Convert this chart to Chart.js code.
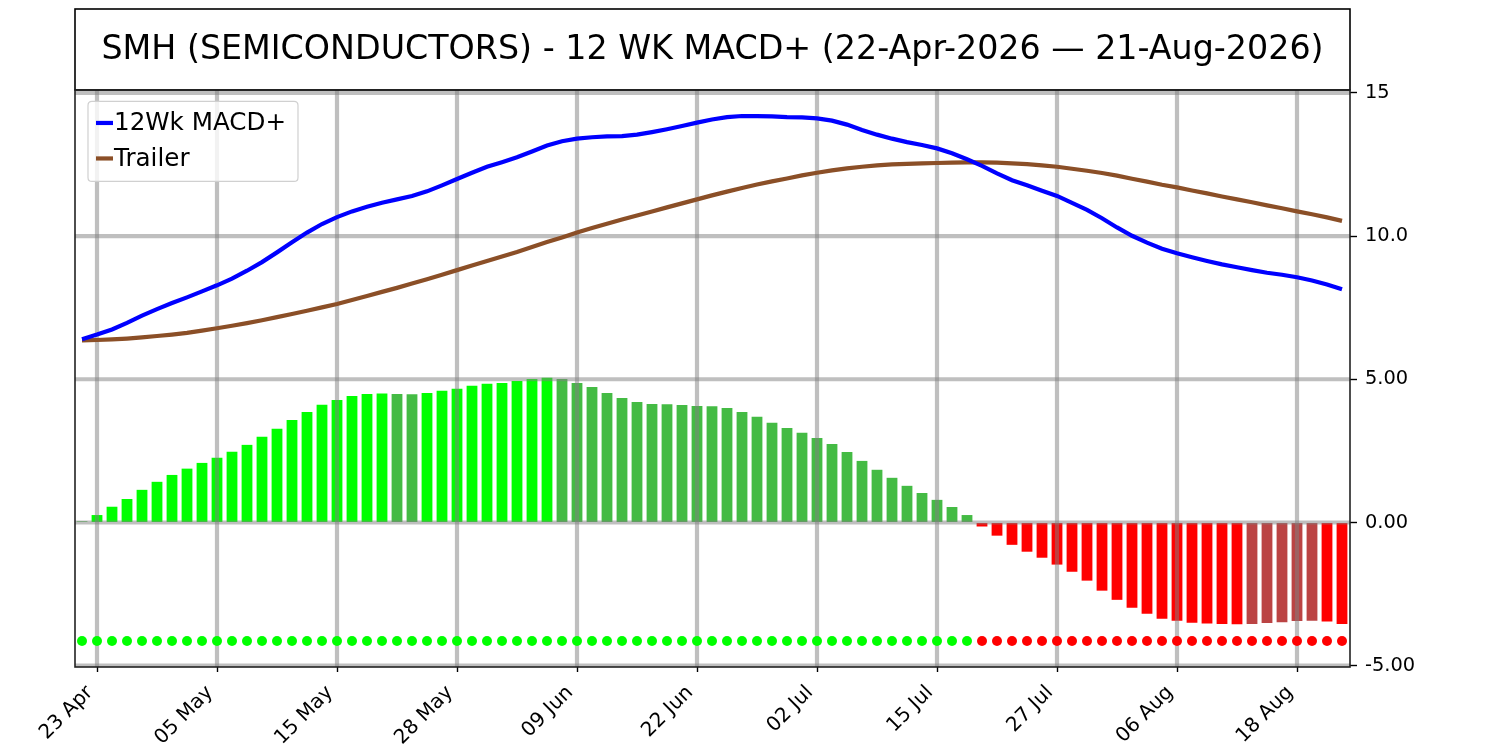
<!DOCTYPE html>
<html>
<head>
<meta charset="utf-8">
<script src="https://cdn.jsdelivr.net/npm/chart.js@4.4.1/dist/chart.umd.min.js"></script>
<style>
  html, body { margin: 0; padding: 0; background: #ffffff; }
  #wrap { width: 1500px; height: 750px; }
</style>
</head>
<body>
<div id="wrap"><canvas id="c" width="1500" height="750"></canvas></div>
<script>
const titleText = 'SMH (SEMICONDUCTORS) - 12 WK MACD+ (22-Apr-2026 \u2014 21-Aug-2026)';

const dates = [
  '22 Apr','23 Apr','24 Apr','27 Apr','28 Apr','29 Apr','30 Apr','01 May','04 May','05 May',
  '06 May','07 May','08 May','11 May','12 May','13 May','14 May','15 May','18 May','19 May',
  '20 May','21 May','22 May','26 May','27 May','28 May','29 May','01 Jun','02 Jun','03 Jun',
  '04 Jun','05 Jun','08 Jun','09 Jun','10 Jun','11 Jun','12 Jun','15 Jun','16 Jun','17 Jun',
  '18 Jun','22 Jun','23 Jun','24 Jun','25 Jun','26 Jun','29 Jun','30 Jun','01 Jul','02 Jul',
  '06 Jul','07 Jul','08 Jul','09 Jul','10 Jul','13 Jul','14 Jul','15 Jul','16 Jul','17 Jul',
  '20 Jul','21 Jul','22 Jul','23 Jul','24 Jul','27 Jul','28 Jul','29 Jul','30 Jul','31 Jul',
  '03 Aug','04 Aug','05 Aug','06 Aug','07 Aug','10 Aug','11 Aug','12 Aug','13 Aug','14 Aug',
  '17 Aug','18 Aug','19 Aug','20 Aug','21 Aug'
];

const xTickDates = ['23 Apr','05 May','15 May','28 May','09 Jun','22 Jun','02 Jul','15 Jul','27 Jul','06 Aug','18 Aug'];

const macdPlus = [
  6.40, 6.56, 6.74, 6.97, 7.22, 7.45, 7.66, 7.86, 8.07, 8.28,
  8.51, 8.79, 9.09, 9.43, 9.78, 10.12, 10.42, 10.66, 10.86, 11.02,
  11.16, 11.28, 11.40, 11.56, 11.77, 11.99, 12.21, 12.42, 12.58, 12.75,
  12.95, 13.16, 13.31, 13.40, 13.45, 13.48, 13.49, 13.54, 13.63, 13.73,
  13.84, 13.96, 14.07, 14.15, 14.19, 14.19, 14.18, 14.15, 14.14, 14.11,
  14.03, 13.89, 13.70, 13.54, 13.40, 13.28, 13.18, 13.06, 12.89, 12.68,
  12.45, 12.19, 11.95, 11.77, 11.58, 11.40, 11.16, 10.91, 10.62, 10.30,
  10.01, 9.77, 9.56, 9.40, 9.26, 9.13, 9.01, 8.91, 8.81, 8.72,
  8.65, 8.56, 8.45, 8.31, 8.14
];

const trailer = [
  6.36, 6.37, 6.39, 6.42, 6.46, 6.51, 6.56, 6.62, 6.70, 6.78,
  6.87, 6.96, 7.06, 7.17, 7.28, 7.39, 7.51, 7.63, 7.77, 7.91,
  8.05, 8.19, 8.34, 8.49, 8.65, 8.81, 8.97, 9.13, 9.29, 9.44,
  9.62, 9.79, 9.95, 10.12, 10.28, 10.43, 10.58, 10.72, 10.86, 11.00,
  11.14, 11.28, 11.42, 11.55, 11.68, 11.80, 11.91, 12.01, 12.12, 12.21,
  12.29, 12.36, 12.42, 12.47, 12.50, 12.52, 12.54, 12.55, 12.56, 12.57,
  12.57, 12.56, 12.54, 12.51, 12.47, 12.42, 12.35, 12.28, 12.20, 12.11,
  12.00, 11.90, 11.79, 11.70, 11.59, 11.49, 11.38, 11.28, 11.18, 11.07,
  10.97, 10.86, 10.76, 10.65, 10.53
];

const histogram = [
  0.04, 0.26, 0.55, 0.82, 1.14, 1.42, 1.66, 1.88, 2.08, 2.26,
  2.47, 2.71, 2.99, 3.27, 3.58, 3.86, 4.11, 4.28, 4.42, 4.49,
  4.50, 4.49, 4.48, 4.52, 4.60, 4.67, 4.77, 4.84, 4.87, 4.94,
  5.01, 5.05, 5.01, 4.87, 4.73, 4.52, 4.35, 4.21, 4.14, 4.13,
  4.10, 4.07, 4.06, 4.00, 3.86, 3.69, 3.48, 3.30, 3.13, 2.95,
  2.74, 2.46, 2.15, 1.84, 1.56, 1.28, 1.03, 0.79, 0.54, 0.26,
  -0.14, -0.46, -0.78, -1.02, -1.23, -1.47, -1.72, -2.03, -2.38, -2.70,
  -2.98, -3.19, -3.36, -3.43, -3.50, -3.53, -3.54, -3.55, -3.54, -3.51,
  -3.48, -3.44, -3.43, -3.46, -3.54
];

const signalLevel = -4.14;

const yTickValues = [-5, 0, 5, 10, 15];
const yTickLabels = ['-5.00', '0.00', '5.00', '10.0', '15'];

// ---- colours derived from the data ----
const COL_UP = '#00ff00', COL_DOWN = '#44bb44', COL_NEG_DOWN = '#ff0000', COL_NEG_UP = '#bb4444';
const barColors = histogram.map((v, i) => {
  const rising = i > 0 && v >= histogram[i - 1];
  if (v >= 0) return rising ? COL_UP : COL_DOWN;
  return rising ? COL_NEG_UP : COL_NEG_DOWN;
});
const dotColors = histogram.map(v => (v >= 0 ? '#00ff00' : '#ff0000'));

Chart.defaults.font.family = "'DejaVu Sans', sans-serif";
Chart.defaults.color = '#000';

const toXY = arr => arr.map((v, i) => ({ x: i, y: v }));

// centre the title over the plot area (as in the reference)
const titleAlignPlugin = {
  id: 'titleOverPlot',
  afterLayout(chart) {
    const t = chart.titleBlock;
    const a = chart.chartArea;
    if (t && a) {
      t.left = a.left;
      t.right = a.right;
      t.width = a.right - a.left;
    }
  }
};

const gridPlugin = {
  id: 'gridOverBars',
  afterDatasetDraw(chart, args) {
    if (args.meta.type !== 'bar') return;
    const { ctx, chartArea: a, scales: { x, y } } = chart;
    ctx.save();
    ctx.beginPath();
    ctx.rect(a.left, a.top, a.right - a.left, a.bottom - a.top);
    ctx.clip();
    ctx.strokeStyle = 'rgba(128,128,128,0.5)';
    ctx.lineWidth = 4.2;
    x.ticks.forEach(t => {
      const px = x.getPixelForValue(t.value);
      ctx.beginPath(); ctx.moveTo(px, a.top); ctx.lineTo(px, a.bottom); ctx.stroke();
    });
    y.ticks.forEach(t => {
      const py = y.getPixelForValue(t.value);
      ctx.beginPath(); ctx.moveTo(a.left, py); ctx.lineTo(a.right, py); ctx.stroke();
    });
    ctx.restore();
  }
};

const framePlugin = {
  id: 'frameAndLegend',
  afterDraw(chart) {
    const { ctx, chartArea: a } = chart;
    ctx.save();
    // title box
    ctx.strokeStyle = '#000';
    ctx.lineWidth = 1.6;
    ctx.strokeRect(a.left, 9, a.right - a.left, a.top - 9);
    // axes frame
    ctx.strokeStyle = '#222';
    ctx.strokeRect(a.left, a.top, a.right - a.left, a.bottom - a.top);

    // legend
    const items = chart.data.datasets.filter(d => d.type === 'line' && d.showLine !== false);
    ctx.font = "24.6px 'DejaVu Sans'";
    const textW = Math.max(...items.map(d => ctx.measureText(d.label).width));
    const bx = a.left + 13, by = a.top + 11.5;
    const bw = 26 + textW + 12, bh = 80;
    const r = 4;
    ctx.beginPath();
    ctx.moveTo(bx + r, by);
    ctx.lineTo(bx + bw - r, by); ctx.quadraticCurveTo(bx + bw, by, bx + bw, by + r);
    ctx.lineTo(bx + bw, by + bh - r); ctx.quadraticCurveTo(bx + bw, by + bh, bx + bw - r, by + bh);
    ctx.lineTo(bx + r, by + bh); ctx.quadraticCurveTo(bx, by + bh, bx, by + bh - r);
    ctx.lineTo(bx, by + r); ctx.quadraticCurveTo(bx, by, bx + r, by);
    ctx.closePath();
    ctx.fillStyle = 'rgba(255,255,255,0.8)';
    ctx.fill();
    ctx.strokeStyle = '#d0d0d0';
    ctx.lineWidth = 1.2;
    ctx.stroke();
    items.forEach((d, k) => {
      const cy = by + 21.5 + k * 35.5;
      ctx.strokeStyle = d.borderColor;
      ctx.lineWidth = 4.2;
      ctx.beginPath(); ctx.moveTo(bx + 8, cy); ctx.lineTo(bx + 25, cy); ctx.stroke();
      ctx.fillStyle = '#000';
      ctx.textBaseline = 'middle';
      ctx.textAlign = 'left';
      ctx.fillText(d.label, bx + 26, cy + 1);
    });
    ctx.restore();
  }
};

new Chart(document.getElementById('c'), {
  type: 'bar',
  data: {
    datasets: [
      {
        type: 'line', label: '12Wk MACD+', data: toXY(macdPlus),
        borderColor: '#0000ff', borderWidth: 4.2, pointRadius: 0, tension: 0, order: 1
      },
      {
        type: 'line', label: 'Trailer', data: toXY(trailer),
        borderColor: '#8b4f27', borderWidth: 4.2, pointRadius: 0, tension: 0, order: 2
      },
      {
        type: 'bar', label: 'Histogram', data: toXY(histogram),
        backgroundColor: barColors, borderWidth: 0,
        barPercentage: 0.72, categoryPercentage: 1, order: 3
      },
      {
        type: 'line', label: 'Signal', data: dates.map((d, i) => ({ x: i, y: signalLevel })),
        showLine: false, pointRadius: 5, pointBorderWidth: 0,
        pointBackgroundColor: dotColors, pointBorderColor: dotColors, order: 0
      }
    ]
  },
  options: {
    responsive: false,
    animation: false,
    devicePixelRatio: 1,
    layout: { padding: { left: 75, right: 0, top: 0, bottom: 0 } },
    plugins: {
      legend: { display: false },
      tooltip: { enabled: false },
      title: {
        display: true,
        text: titleText,
        color: '#000',
        font: { family: "'DejaVu Sans'", size: 33.3, weight: 'normal', lineHeight: 1.2 },
        padding: { top: 30, bottom: 20 }
      }
    },
    scales: {
      x: {
        type: 'linear',
        min: -0.467,
        max: 84.533,
        offset: false,
        afterBuildTicks: s => { s.ticks = xTickDates.map(d => ({ value: dates.indexOf(d) })); },
        afterFit: s => { s.height = 83; },
        ticks: {
          autoSkip: false,
          maxRotation: 45,
          minRotation: 45,
          padding: 9,
          labelOffset: -7,
          color: '#000',
          font: { size: 20 },
          callback: v => dates[v]
        },
        grid: {
          offset: false,
          drawOnChartArea: false,
          drawTicks: true,
          tickLength: 5,
          tickColor: '#000',
          tickWidth: 1.4
        },
        border: { display: false }
      },
      y: {
        position: 'right',
        min: -5.045,
        max: 15.10,
        afterBuildTicks: s => { s.ticks = yTickValues.map(v => ({ value: v })); },
        afterFit: s => { s.width = 150; },
        ticks: {
          padding: 8,
          color: '#000',
          font: { size: 19.4 },
          callback: v => yTickLabels[yTickValues.indexOf(v)]
        },
        grid: {
          drawOnChartArea: false,
          drawTicks: true,
          tickLength: 7,
          tickColor: '#000',
          tickWidth: 1.4
        },
        border: { display: false }
      }
    }
  },
  plugins: [titleAlignPlugin, gridPlugin, framePlugin]
});
</script>
</body>
</html>
